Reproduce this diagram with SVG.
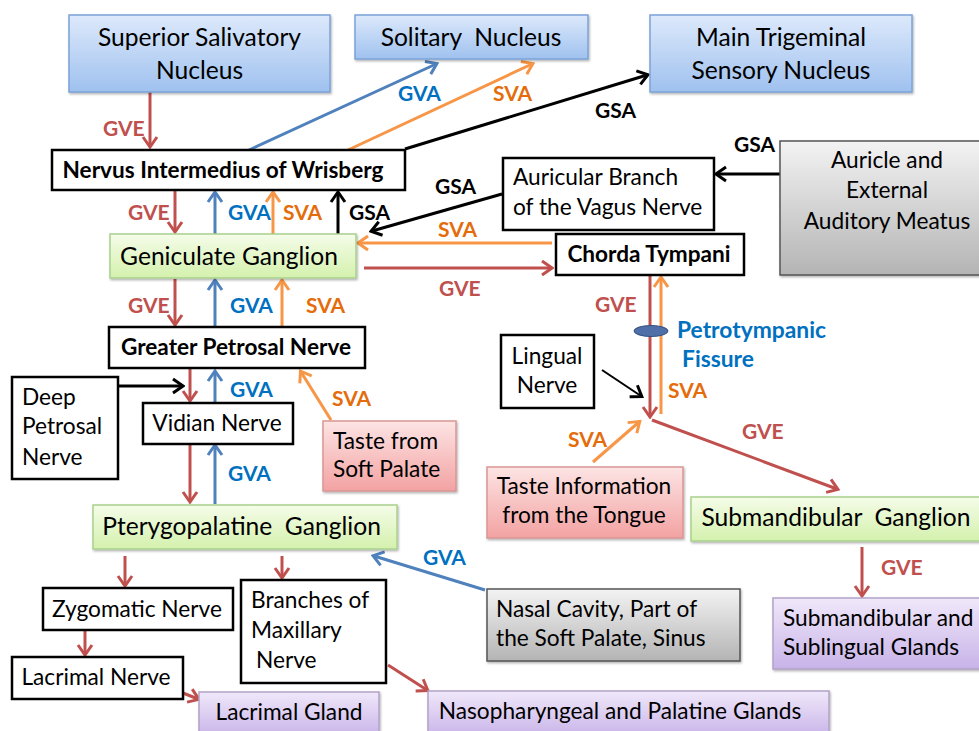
<svg xmlns="http://www.w3.org/2000/svg" width="979" height="731" viewBox="0 0 979 731">
<style>
.t{font-family:Lato,"Liberation Sans",sans-serif;font-size:24.6px;fill:#000}
.s{font-size:22.7px}
.b{font-family:Lato,"Liberation Sans",sans-serif;font-weight:bold;font-size:22.6px;fill:#000}
.l{font-family:Lato,"Liberation Sans",sans-serif;font-weight:bold;font-size:21px}
.p{font-size:22.8px}
.c{text-anchor:middle}
.gve{fill:#c0504d}.gva{fill:#0070c0}.sva{fill:#e46c0a}.gsa{fill:#000}
.wb{fill:#fff;stroke:#000;stroke-width:2.5}
.blue{fill:url(#gBlue);stroke:#7ba3d8;stroke-width:1.5;filter:url(#sh)}
.green{fill:url(#gGreen);stroke:#a9d18e;stroke-width:1.5;filter:url(#sh)}
.pink{fill:url(#gPink);stroke:#d99694;stroke-width:1.5;filter:url(#sh)}
.purple{fill:url(#gPurple);stroke:#b3a2c7;stroke-width:1.5;filter:url(#sh)}
.gray{fill:url(#gGray);stroke:#555;stroke-width:1.5;filter:url(#sh)}
.r{stroke:#c0504d;stroke-width:3;fill:none;marker-end:url(#mR)}
.bl{stroke:#4f81bd;stroke-width:3;fill:none;marker-end:url(#mB)}
.o{stroke:#f79646;stroke-width:3;fill:none;marker-end:url(#mO)}
.k{stroke:#000;stroke-width:3;fill:none;marker-end:url(#mK)}
.kt{stroke:#000;stroke-width:2;fill:none;marker-end:url(#mK)}
</style>
<defs>
<filter id="sh" x="-5%" y="-5%" width="115%" height="120%"><feDropShadow dx="1" dy="1.5" stdDeviation="1" flood-color="#000" flood-opacity="0.3"/></filter>
<linearGradient id="gBlue" x1="0" y1="0" x2="0" y2="1"><stop offset="0" stop-color="#dde9fb"/><stop offset="1" stop-color="#9fc1ef"/></linearGradient>
<linearGradient id="gGreen" x1="0" y1="0" x2="0" y2="1"><stop offset="0" stop-color="#f5fce9"/><stop offset="1" stop-color="#d4f1ad"/></linearGradient>
<linearGradient id="gPink" x1="0" y1="0" x2="0" y2="1"><stop offset="0" stop-color="#fde4e4"/><stop offset="1" stop-color="#f3a2a2"/></linearGradient>
<linearGradient id="gPurple" x1="0" y1="0" x2="0" y2="1"><stop offset="0" stop-color="#f0e8fa"/><stop offset="1" stop-color="#c8b3e8"/></linearGradient>
<linearGradient id="gGray" x1="0" y1="0" x2="0" y2="1"><stop offset="0" stop-color="#f3f3f3"/><stop offset="1" stop-color="#b4b4b4"/></linearGradient>
<marker id="mR" viewBox="-12 -9 14 18" refX="-1" refY="0" markerWidth="14" markerHeight="18" markerUnits="userSpaceOnUse" orient="auto"><path d="M-10,-7 L0,0 L-10,7" fill="none" stroke="#c0504d" stroke-width="3"/></marker>
<marker id="mB" viewBox="-12 -9 14 18" refX="-1" refY="0" markerWidth="14" markerHeight="18" markerUnits="userSpaceOnUse" orient="auto"><path d="M-10,-7 L0,0 L-10,7" fill="none" stroke="#4f81bd" stroke-width="3"/></marker>
<marker id="mO" viewBox="-12 -9 14 18" refX="-1" refY="0" markerWidth="14" markerHeight="18" markerUnits="userSpaceOnUse" orient="auto"><path d="M-10,-7 L0,0 L-10,7" fill="none" stroke="#f79646" stroke-width="3"/></marker>
<marker id="mK" viewBox="-12 -9 14 18" refX="-1" refY="0" markerWidth="14" markerHeight="18" markerUnits="userSpaceOnUse" orient="auto"><path d="M-10,-7 L0,0 L-10,7" fill="none" stroke="#000" stroke-width="3"/></marker>
</defs>

<g id="connectors">
<line class="r" x1="150" y1="92" x2="150" y2="146"/>
<line class="bl" x1="249" y1="150" x2="436" y2="64"/>
<line class="o" x1="348" y1="150" x2="532" y2="64"/>
<line class="k" x1="405" y1="149" x2="647" y2="75"/>
<line class="r" x1="175" y1="191" x2="175" y2="231"/>
<line class="bl" x1="215" y1="234" x2="215" y2="193"/>
<line class="o" x1="273" y1="234" x2="273" y2="193"/>
<line class="k" x1="338" y1="234" x2="338" y2="193"/>
<line class="k" x1="502" y1="194" x2="372" y2="231"/>
<line class="o" x1="552" y1="243" x2="359" y2="243"/>
<line class="r" x1="364" y1="268" x2="551" y2="268"/>
<line class="r" x1="175" y1="279" x2="175" y2="324"/>
<line class="bl" x1="215" y1="327" x2="215" y2="281"/>
<line class="o" x1="282" y1="327" x2="282" y2="281"/>
<line class="r" x1="190" y1="369" x2="190" y2="400"/>
<line class="bl" x1="215" y1="403" x2="215" y2="372"/>
<line class="k" x1="118" y1="386" x2="182" y2="386"/>
<line class="o" x1="331" y1="420" x2="301" y2="372"/>
<line class="r" x1="190" y1="444" x2="190" y2="501"/>
<line class="bl" x1="215" y1="504" x2="215" y2="446"/>
<line class="bl" x1="485" y1="590" x2="374" y2="556"/>
<line class="r" x1="125" y1="556" x2="125" y2="585"/>
<line class="r" x1="282" y1="556" x2="282" y2="577"/>
<line class="r" x1="85" y1="631" x2="85" y2="654"/>
<line class="r" x1="183" y1="693" x2="198" y2="699"/>
<line class="r" x1="388" y1="665" x2="427" y2="690"/>
<line class="k" x1="780" y1="174" x2="717" y2="174"/>
<line class="r" x1="650" y1="276" x2="650" y2="416"/>
<line class="o" x1="661" y1="414" x2="661" y2="278"/>
<ellipse cx="651" cy="331" rx="17" ry="5.5" fill="#4f6fa8" stroke="#2f4f80" stroke-width="1"/>
<line class="kt" x1="602" y1="370" x2="641" y2="396"/>
<line class="o" x1="593" y1="462" x2="639" y2="422"/>
<line class="r" x1="652" y1="420" x2="837" y2="489"/>
<line class="r" x1="862" y1="547" x2="862" y2="595"/>
</g>

<g id="labels">
<text class="l gve" x="103" y="136">GVE</text>
<text class="l gva" x="398" y="101">GVA</text>
<text class="l sva" x="493" y="101">SVA</text>
<text class="l gsa" x="595" y="118">GSA</text>
<text class="l gsa" x="734" y="152">GSA</text>
<text class="l gve" x="128" y="220">GVE</text>
<text class="l gva" x="228" y="220">GVA</text>
<text class="l sva" x="283" y="220">SVA</text>
<text class="l gsa" x="349" y="220">GSA</text>
<text class="l gsa" x="435" y="194">GSA</text>
<text class="l sva" x="438" y="237">SVA</text>
<text class="l gve" x="439" y="296">GVE</text>
<text class="l gve" x="128" y="313">GVE</text>
<text class="l gva" x="230" y="313">GVA</text>
<text class="l sva" x="306" y="313">SVA</text>
<text class="l gva" x="230" y="397">GVA</text>
<text class="l sva" x="332" y="406">SVA</text>
<text class="l gva" x="228" y="481">GVA</text>
<text class="l gva" x="423" y="565">GVA</text>
<text class="l gve" x="595" y="312">GVE</text>
<text class="l sva" x="668" y="398">SVA</text>
<text class="l sva" x="568" y="447">SVA</text>
<text class="l gve" x="742" y="439">GVE</text>
<text class="l gve" x="881" y="575">GVE</text>
<text class="l p gva" x="677" y="338">Petrotympanic</text>
<text class="l p gva" x="682" y="367">Fissure</text>
</g>

<g id="superior-salivatory-nucleus"><rect class="blue" x="69" y="15" width="261" height="77"/><text class="t c" x="199.5" y="46">Superior Salivatory</text><text class="t c" x="199.5" y="79">Nucleus</text></g>
<g id="solitary-nucleus"><rect class="blue" x="355" y="15" width="233" height="44"/><text class="t c" x="471" y="46" xml:space="preserve">Solitary  Nucleus</text></g>
<g id="main-trigeminal-sensory-nucleus"><rect class="blue" x="650" y="15" width="262" height="77"/><text class="t c" x="781" y="46">Main Trigeminal</text><text class="t c" x="781" y="79">Sensory Nucleus</text></g>
<g id="nervus-intermedius"><rect class="wb" x="52" y="150" width="353" height="40"/><text class="b c" x="223" y="178">Nervus Intermedius of Wrisberg</text></g>
<g id="auricle"><rect class="gray" x="780" y="141" width="205" height="134"/><text class="t s c" x="887" y="168">Auricle and</text><text class="t s c" x="887" y="198">External</text><text class="t s c" x="887" y="229">Auditory Meatus</text></g>
<g id="auricular-branch"><rect class="wb" x="503" y="158" width="211" height="72"/><text class="t s" x="513" y="185">Auricular Branch</text><text class="t s" x="513" y="215">of the Vagus Nerve</text></g>
<g id="geniculate-ganglion"><rect class="green" x="110" y="234" width="246" height="44"/><text class="t c" x="229" y="265">Geniculate Ganglion</text></g>
<g id="chorda-tympani"><rect class="wb" x="556" y="234" width="188" height="41"/><text class="b c" x="649" y="262">Chorda Tympani</text></g>
<g id="greater-petrosal-nerve"><rect class="wb" x="109" y="327" width="256" height="41"/><text class="b c" x="236" y="355">Greater Petrosal Nerve</text></g>
<g id="deep-petrosal-nerve"><rect class="wb" x="12" y="377" width="106" height="102"/><text class="t s" x="22" y="405">Deep</text><text class="t s" x="22" y="434">Petrosal</text><text class="t s" x="22" y="465">Nerve</text></g>
<g id="vidian-nerve"><rect class="wb" x="143" y="403" width="150" height="41"/><text class="t s c" x="217" y="431">Vidian Nerve</text></g>
<g id="taste-soft-palate"><rect class="pink" x="323" y="421" width="133" height="70"/><text class="t s" x="333" y="449">Taste from</text><text class="t s" x="333" y="477">Soft Palate</text></g>
<g id="lingual-nerve"><rect class="wb" x="501" y="335" width="93" height="73"/><text class="t s c" x="547" y="364">Lingual</text><text class="t s c" x="547" y="393">Nerve</text></g>
<g id="taste-tongue"><rect class="pink" x="487" y="467" width="196" height="71"/><text class="t s c" x="584" y="494">Taste Information</text><text class="t s c" x="584" y="523">from the Tongue</text></g>
<g id="submandibular-ganglion"><rect class="green" x="691" y="497" width="295" height="44"/><text class="t c" x="836" y="526" xml:space="preserve">Submandibular  Ganglion</text></g>
<g id="pterygopalatine-ganglion"><rect class="green" x="93" y="505" width="304" height="44"/><text class="t c" x="241.5" y="535" xml:space="preserve">Pterygopalatine  Ganglion</text></g>
<g id="zygomatic-nerve"><rect class="wb" x="43" y="588" width="190" height="42"/><text class="t s c" x="137" y="617">Zygomatic Nerve</text></g>
<g id="branches-maxillary"><rect class="wb" x="241" y="580" width="145" height="103"/><text class="t s" x="251" y="608">Branches of</text><text class="t s" x="251" y="638">Maxillary</text><text class="t s" x="256" y="668">Nerve</text></g>
<g id="nasal-cavity"><rect class="gray" x="487" y="589" width="253" height="72"/><text class="t s" x="496" y="617">Nasal Cavity, Part of</text><text class="t s" x="496" y="646">the Soft Palate, Sinus</text></g>
<g id="submandibular-sublingual-glands"><rect class="purple" x="773" y="598" width="212" height="71"/><text class="t s" x="783" y="626">Submandibular and</text><text class="t s" x="783" y="655">Sublingual Glands</text></g>
<g id="lacrimal-nerve"><rect class="wb" x="12" y="657" width="171" height="42"/><text class="t s c" x="96" y="685">Lacrimal Nerve</text></g>
<g id="lacrimal-gland"><rect class="purple" x="199" y="692" width="180" height="45"/><text class="t s c" x="289" y="720">Lacrimal Gland</text></g>
<g id="nasopharyngeal-palatine-glands"><rect class="purple" x="428" y="691" width="401" height="46"/><text class="t s c" x="620" y="719">Nasopharyngeal and Palatine Glands</text></g>
</svg>
